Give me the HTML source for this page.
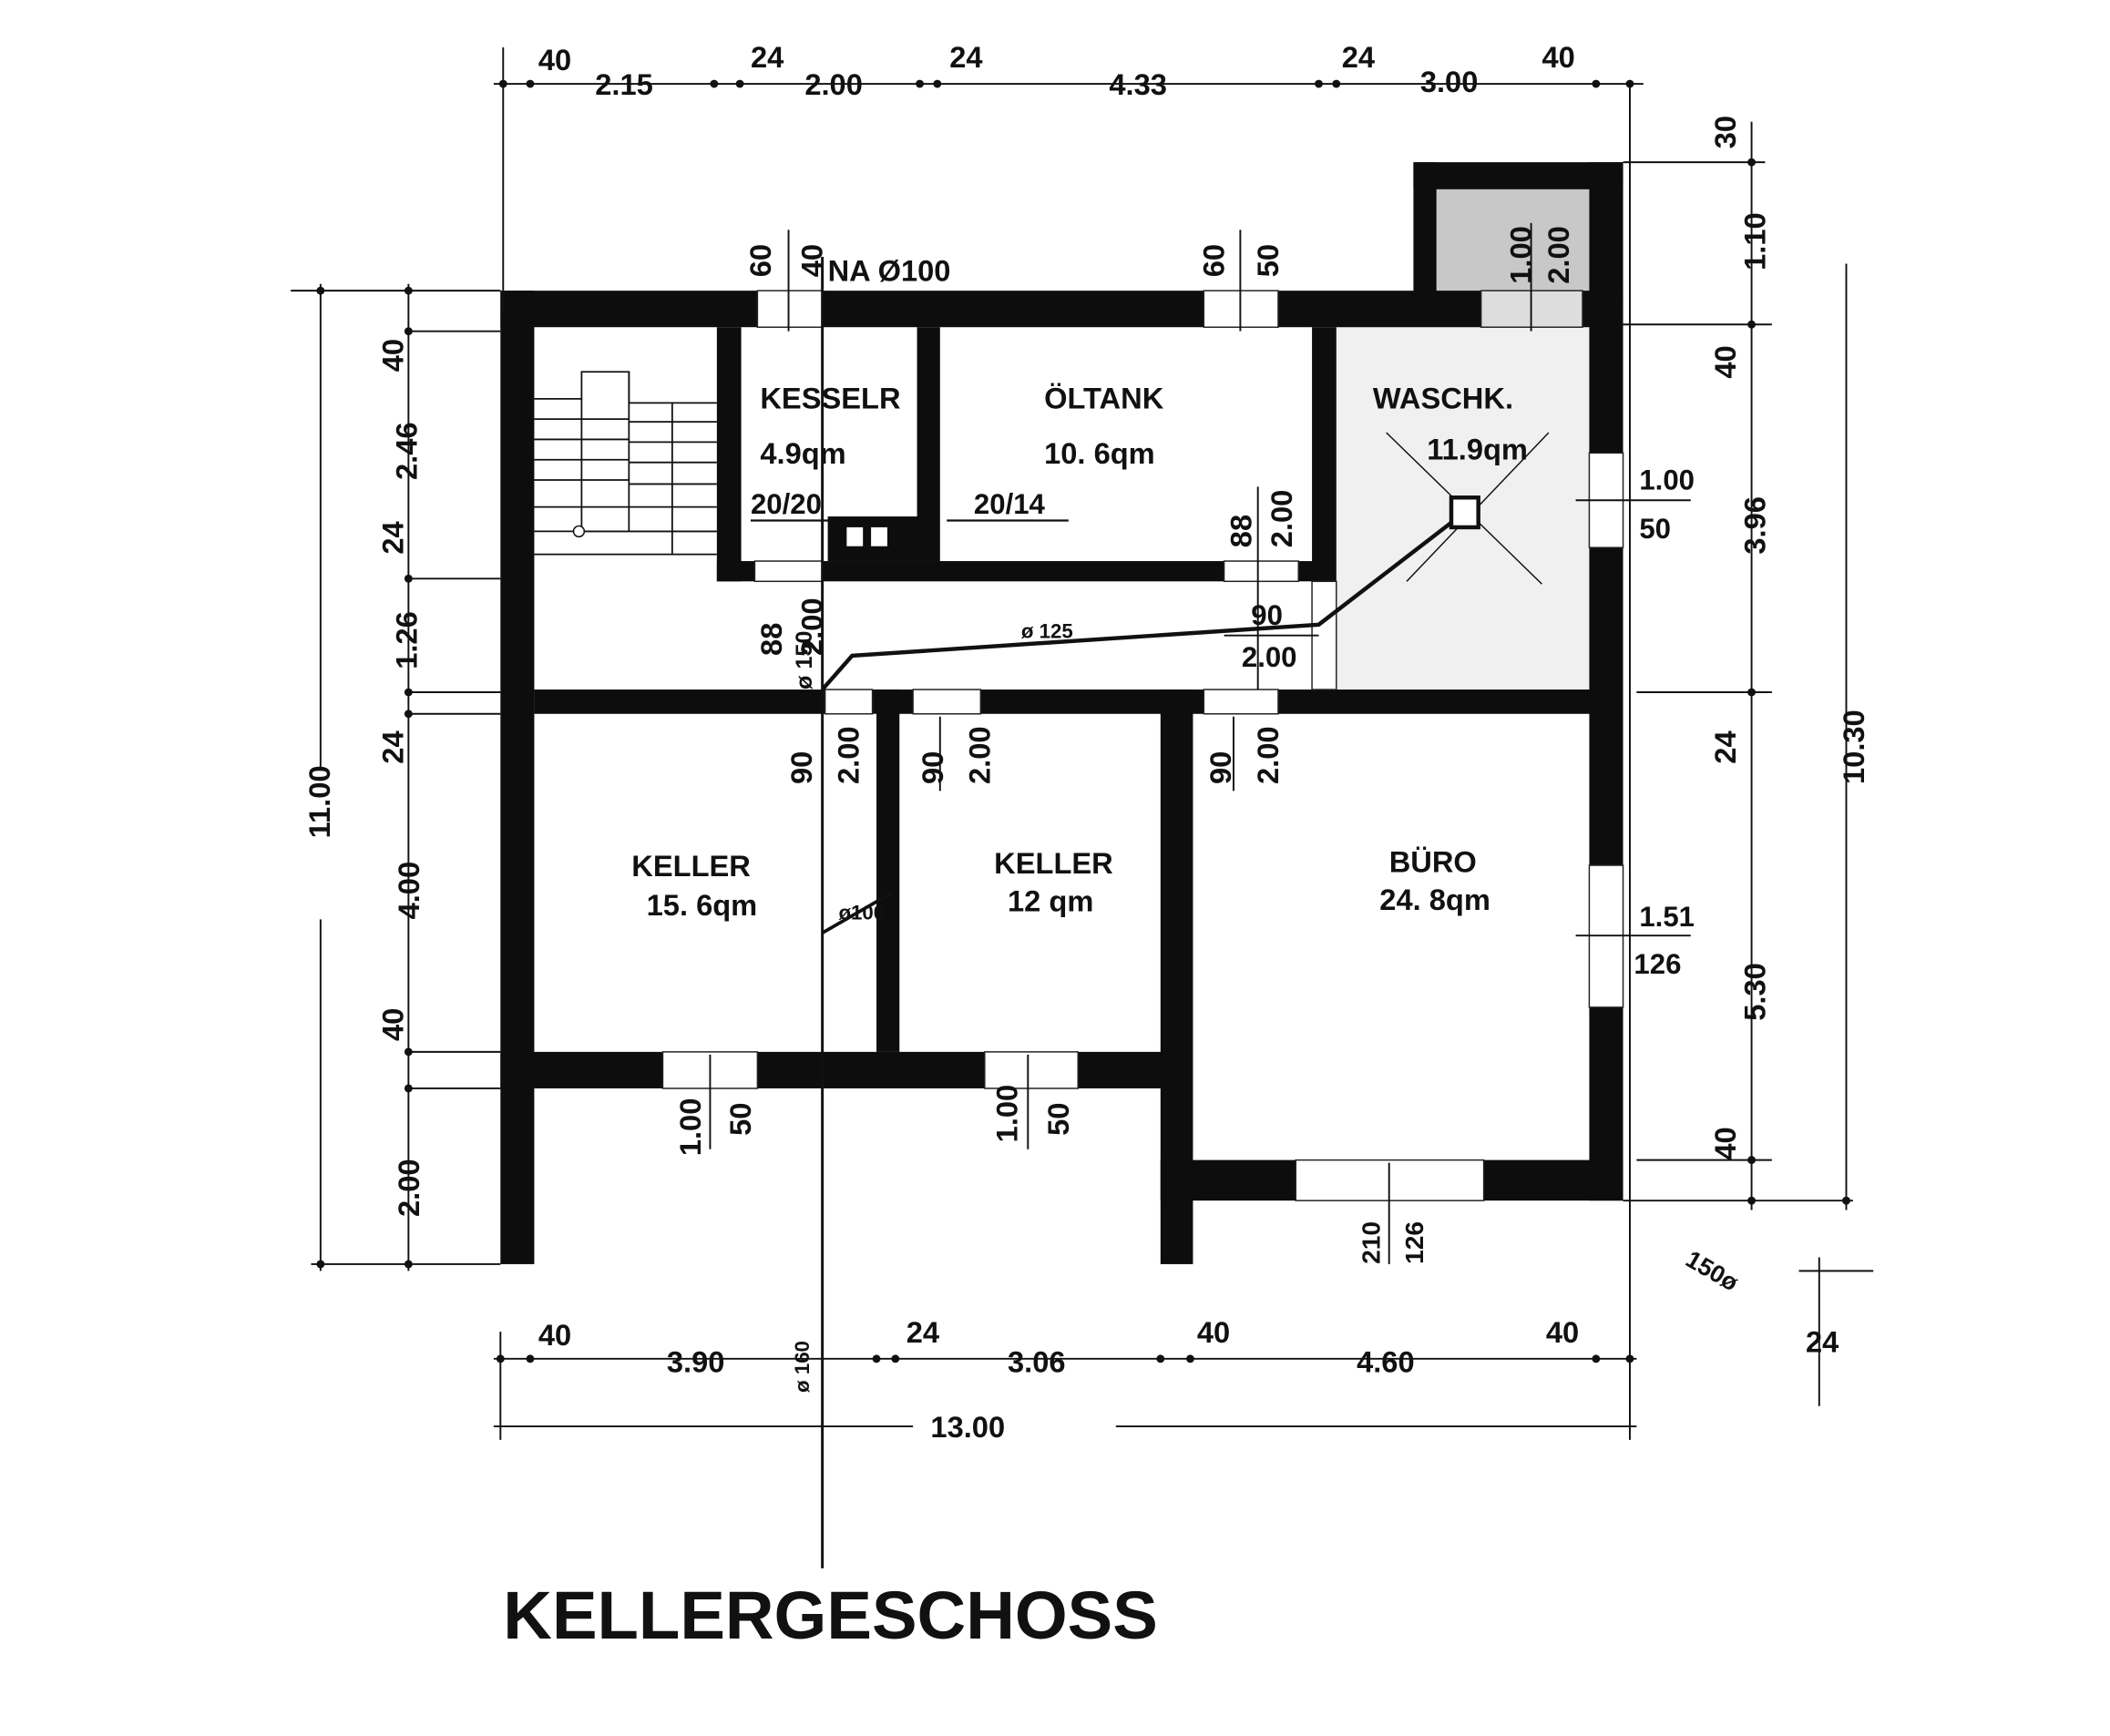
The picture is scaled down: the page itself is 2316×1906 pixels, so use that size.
<!DOCTYPE html>
<html><head><meta charset="utf-8"><style>
html,body{margin:0;padding:0;background:#fff;}
svg{display:block;}
text{font-family:"Liberation Sans",sans-serif;fill:#111;font-weight:bold;}
</style></head><body>
<svg width="2316" height="1906" viewBox="0 0 1560 1284" preserveAspectRatio="none" xmlns="http://www.w3.org/2000/svg">
<rect width="1560" height="1284" fill="#fff"/>
<!-- annex gray -->
<rect x="1045" y="120" width="155" height="100" fill="#c8c8c8"/>
<rect x="985" y="240" width="195" height="270" fill="#f0f0f0"/>
<g fill="#0d0d0d">
<!-- outer -->
<rect x="370" y="215" width="830" height="27"/>
<rect x="370" y="215" width="25" height="720"/>
<rect x="1045" y="120" width="155" height="20"/>
<rect x="1045" y="120" width="17" height="100"/>
<rect x="1175" y="120" width="25" height="768"/>
<rect x="858" y="858" width="342" height="30"/>
<rect x="858" y="510" width="24" height="425"/>
<rect x="370" y="778" width="495" height="27"/>
<rect x="395" y="510" width="785" height="18"/>
<!-- interior -->
<rect x="530" y="242" width="18" height="188"/>
<rect x="678" y="242" width="17" height="173"/>
<rect x="530" y="415" width="445" height="15"/>
<rect x="970" y="242" width="18" height="268"/>
<rect x="648" y="510" width="17" height="268"/>
<rect x="612" y="382" width="68" height="33"/>
</g>
<!-- openings -->
<g fill="#fff" stroke="#222" stroke-width="1">
<rect x="560" y="215" width="48" height="27"/>
<rect x="890" y="215" width="55" height="27"/>
<rect x="1095" y="215" width="75" height="27" fill="#ddd"/>
<rect x="490" y="778" width="70" height="27"/>
<rect x="728" y="778" width="69" height="27"/>
<rect x="958" y="858" width="139" height="30"/>
<rect x="1175" y="335" width="25" height="70"/>
<rect x="1175" y="640" width="25" height="105"/>
<rect x="558" y="415" width="50" height="15"/>
<rect x="905" y="415" width="55" height="15"/>
<rect x="970" y="430" width="18" height="80"/>
<rect x="610" y="510" width="35" height="18"/>
<rect x="675" y="510" width="50" height="18"/>
<rect x="890" y="510" width="55" height="18"/>
</g>
<rect x="626" y="390" width="12" height="14" fill="#fff"/><rect x="644" y="390" width="12" height="14" fill="#fff"/>
<!-- stairs -->
<g stroke="#111" stroke-width="1.2" fill="none">
<polyline points="395,295 430,295 430,275 465,275 465,298 530,298"/>
<line x1="395" y1="310" x2="465" y2="310"/><line x1="395" y1="325" x2="465" y2="325"/>
<line x1="395" y1="340" x2="465" y2="340"/><line x1="395" y1="355" x2="465" y2="355"/>
<line x1="395" y1="375" x2="465" y2="375"/><line x1="395" y1="393" x2="530" y2="393"/>
<line x1="465" y1="312" x2="530" y2="312"/><line x1="465" y1="327" x2="530" y2="327"/>
<line x1="465" y1="342" x2="530" y2="342"/><line x1="465" y1="358" x2="530" y2="358"/>
<line x1="465" y1="375" x2="530" y2="375"/>
<line x1="430" y1="295" x2="430" y2="393"/><line x1="465" y1="275" x2="465" y2="393"/>
<line x1="430" y1="393" x2="530" y2="393"/><line x1="497" y1="298" x2="497" y2="410"/>
<line x1="395" y1="410" x2="530" y2="410"/>
</g>
<circle cx="428" cy="393" r="4" fill="#fff" stroke="#111"/>
<!-- pipes -->
<g stroke="#111" fill="none">
<line x1="608" y1="190" x2="608" y2="1160" stroke-width="2"/>
<polyline points="608,510 630,485 975,462 1075,385" stroke-width="3"/>
<line x1="608" y1="690" x2="660" y2="660" stroke-width="2.5"/>
<line x1="1025" y1="320" x2="1140" y2="432" stroke-width="1"/>
<line x1="1040" y1="430" x2="1145" y2="320" stroke-width="1"/>
<line x1="700" y1="385" x2="790" y2="385" stroke-width="1.5"/>
<line x1="555" y1="385" x2="615" y2="385" stroke-width="1.5"/>
</g>
<rect x="1073" y="368" width="20" height="22" fill="#fff" stroke="#111" stroke-width="3"/>
<!-- dimension lines -->
<g stroke="#111" stroke-width="1.3" fill="none">
<line x1="365" y1="62" x2="1215" y2="62"/>
<line x1="372" y1="35" x2="372" y2="230"/>
<line x1="365" y1="1005" x2="1210" y2="1005"/>
<line x1="365" y1="1055" x2="675" y2="1055"/><line x1="825" y1="1055" x2="1210" y2="1055"/>
<line x1="370" y1="985" x2="370" y2="1065"/><line x1="1205" y1="60" x2="1205" y2="1065"/>
<line x1="237" y1="210" x2="237" y2="570"/><line x1="237" y1="680" x2="237" y2="940"/>
<line x1="302" y1="210" x2="302" y2="940"/>
<line x1="215" y1="215" x2="370" y2="215"/><line x1="230" y1="935" x2="370" y2="935"/>
<line x1="300" y1="245" x2="370" y2="245"/><line x1="300" y1="428" x2="370" y2="428"/>
<line x1="300" y1="512" x2="370" y2="512"/><line x1="300" y1="528" x2="370" y2="528"/>
<line x1="300" y1="778" x2="370" y2="778"/><line x1="300" y1="805" x2="370" y2="805"/>
<line x1="1295" y1="90" x2="1295" y2="895"/><line x1="1365" y1="195" x2="1365" y2="895"/>
<line x1="1200" y1="120" x2="1305" y2="120"/><line x1="1200" y1="240" x2="1310" y2="240"/>
<line x1="1210" y1="512" x2="1310" y2="512"/><line x1="1210" y1="858" x2="1310" y2="858"/>
<line x1="1200" y1="888" x2="1370" y2="888"/><line x1="1165" y1="370" x2="1250" y2="370"/>
<line x1="1165" y1="692" x2="1250" y2="692"/>
<line x1="1330" y1="940" x2="1385" y2="940"/><line x1="1345" y1="930" x2="1345" y2="1040"/>
<line x1="583" y1="170" x2="583" y2="245"/><line x1="917" y1="170" x2="917" y2="245"/>
<line x1="1132" y1="165" x2="1132" y2="245"/>
<line x1="525" y1="780" x2="525" y2="850"/><line x1="760" y1="780" x2="760" y2="850"/>
<line x1="1027" y1="860" x2="1027" y2="935"/>
<line x1="930" y1="360" x2="930" y2="510"/><line x1="905" y1="470" x2="975" y2="470"/>
<line x1="695" y1="530" x2="695" y2="585"/><line x1="912" y1="530" x2="912" y2="585"/>
</g>
<g fill="#111">
<circle cx="372" cy="62" r="3"/><circle cx="392" cy="62" r="3"/><circle cx="528" cy="62" r="3"/><circle cx="547" cy="62" r="3"/>
<circle cx="680" cy="62" r="3"/><circle cx="693" cy="62" r="3"/><circle cx="975" cy="62" r="3"/><circle cx="988" cy="62" r="3"/>
<circle cx="1180" cy="62" r="3"/><circle cx="1205" cy="62" r="3"/>
<circle cx="370" cy="1005" r="3"/><circle cx="392" cy="1005" r="3"/><circle cx="648" cy="1005" r="3"/><circle cx="662" cy="1005" r="3"/>
<circle cx="858" cy="1005" r="3"/><circle cx="880" cy="1005" r="3"/><circle cx="1180" cy="1005" r="3"/><circle cx="1205" cy="1005" r="3"/>
<circle cx="237" cy="215" r="3"/><circle cx="237" cy="935" r="3"/><circle cx="302" cy="215" r="3"/><circle cx="302" cy="245" r="3"/>
<circle cx="302" cy="428" r="3"/><circle cx="302" cy="512" r="3"/><circle cx="302" cy="528" r="3"/><circle cx="302" cy="778" r="3"/>
<circle cx="302" cy="805" r="3"/><circle cx="302" cy="935" r="3"/>
<circle cx="1295" cy="120" r="3"/><circle cx="1295" cy="240" r="3"/><circle cx="1295" cy="512" r="3"/><circle cx="1295" cy="858" r="3"/><circle cx="1295" cy="888" r="3"/><circle cx="1365" cy="888" r="3"/>
</g>
<!-- top dims -->
<g font-size="22">
<text x="398" y="52">40</text><text x="440" y="70">2.15</text><text x="555" y="50">24</text>
<text x="595" y="70">2.00</text><text x="702" y="50">24</text><text x="820" y="70">4.33</text>
<text x="992" y="50">24</text><text x="1050" y="68">3.00</text><text x="1140" y="50">40</text>
<text x="398" y="995">40</text><text x="493" y="1015">3.90</text><text x="670" y="993">24</text>
<text x="745" y="1015">3.06</text><text x="885" y="993">40</text><text x="1003" y="1015">4.60</text>
<text x="1143" y="993">40</text><text x="688" y="1063">13.00</text>
<text x="1335" y="1000">24</text>
<text x="1245" y="935" transform="rotate(30 1245 935)" font-size="18">150ø</text>
<text x="612" y="208" font-weight="normal">NA Ø100</text>
</g>
<!-- rotated dims -->
<g font-size="22">
<text transform="translate(298,275) rotate(-90)">40</text>
<text transform="translate(308,355) rotate(-90)">2.46</text>
<text transform="translate(298,410) rotate(-90)">24</text>
<text transform="translate(308,495) rotate(-90)">1.26</text>
<text transform="translate(298,565) rotate(-90)">24</text>
<text transform="translate(244,620) rotate(-90)">11.00</text>
<text transform="translate(310,680) rotate(-90)">4.00</text>
<text transform="translate(298,770) rotate(-90)">40</text>
<text transform="translate(310,900) rotate(-90)">2.00</text>
<text transform="translate(1283,110) rotate(-90)">30</text>
<text transform="translate(1305,200) rotate(-90)">1.10</text>
<text transform="translate(1283,280) rotate(-90)">40</text>
<text transform="translate(1305,410) rotate(-90)">3.96</text>
<text transform="translate(1283,565) rotate(-90)">24</text>
<text transform="translate(1378,580) rotate(-90)">10.30</text>
<text transform="translate(1305,755) rotate(-90)">5.30</text>
<text transform="translate(1283,858) rotate(-90)">40</text>
<text transform="translate(570,205) rotate(-90)">60</text>
<text transform="translate(608,205) rotate(-90)">40</text>
<text transform="translate(905,205) rotate(-90)">60</text>
<text transform="translate(945,205) rotate(-90)">50</text>
<text transform="translate(1132,210) rotate(-90)">1.00</text>
<text transform="translate(1160,210) rotate(-90)">2.00</text>
<text transform="translate(925,405) rotate(-90)">88</text>
<text transform="translate(955,405) rotate(-90)">2.00</text>
<text transform="translate(578,485) rotate(-90)">88</text>
<text transform="translate(608,485) rotate(-90)">2.00</text>
<text transform="translate(600,580) rotate(-90)">90</text>
<text transform="translate(635,580) rotate(-90)">2.00</text>
<text transform="translate(697,580) rotate(-90)">90</text>
<text transform="translate(732,580) rotate(-90)">2.00</text>
<text transform="translate(910,580) rotate(-90)">90</text>
<text transform="translate(945,580) rotate(-90)">2.00</text>
<text transform="translate(518,855) rotate(-90)">1.00</text>
<text transform="translate(555,840) rotate(-90)">50</text>
<text transform="translate(752,845) rotate(-90)">1.00</text>
<text transform="translate(790,840) rotate(-90)">50</text>
<text transform="translate(1020,935) rotate(-90)" font-size="19">210</text>
<text transform="translate(1052,935) rotate(-90)" font-size="19">126</text>
<text transform="translate(598,1030) rotate(-90)" font-size="15" font-weight="normal">ø 160</text>
<text transform="translate(600,510) rotate(-90)" font-size="17" font-weight="normal">ø 150</text>
</g>
<g font-size="21">
<text x="1212" y="362">1.00</text><text x="1212" y="398">50</text>
<text x="1212" y="685">1.51</text><text x="1208" y="720">126</text>
<text x="925" y="462">90</text><text x="918" y="493">2.00</text>
<text x="755" y="472" font-size="15" font-weight="normal">ø 125</text>
<text x="555" y="380">20/20</text><text x="720" y="380">20/14</text>
<text x="620" y="680" font-size="15" font-weight="normal">ø100</text>
</g>
<!-- room labels -->
<g font-size="22">
<text x="562" y="302">KESSELR</text><text x="562" y="343">4.9qm</text>
<text x="772" y="302">ÖLTANK</text><text x="772" y="343">10. 6qm</text>
<text x="1015" y="302">WASCHK.</text><text x="1055" y="340">11.9qm</text>
<text x="467" y="648">KELLER</text><text x="478" y="677">15. 6qm</text>
<text x="735" y="646">KELLER</text><text x="745" y="674">12 qm</text>
<text x="1027" y="645">BÜRO</text><text x="1020" y="673">24. 8qm</text>
</g>
<text x="372" y="1212" font-size="50" textLength="484" lengthAdjust="spacingAndGlyphs">KELLERGESCHOSS</text>
</svg>
</body></html>
